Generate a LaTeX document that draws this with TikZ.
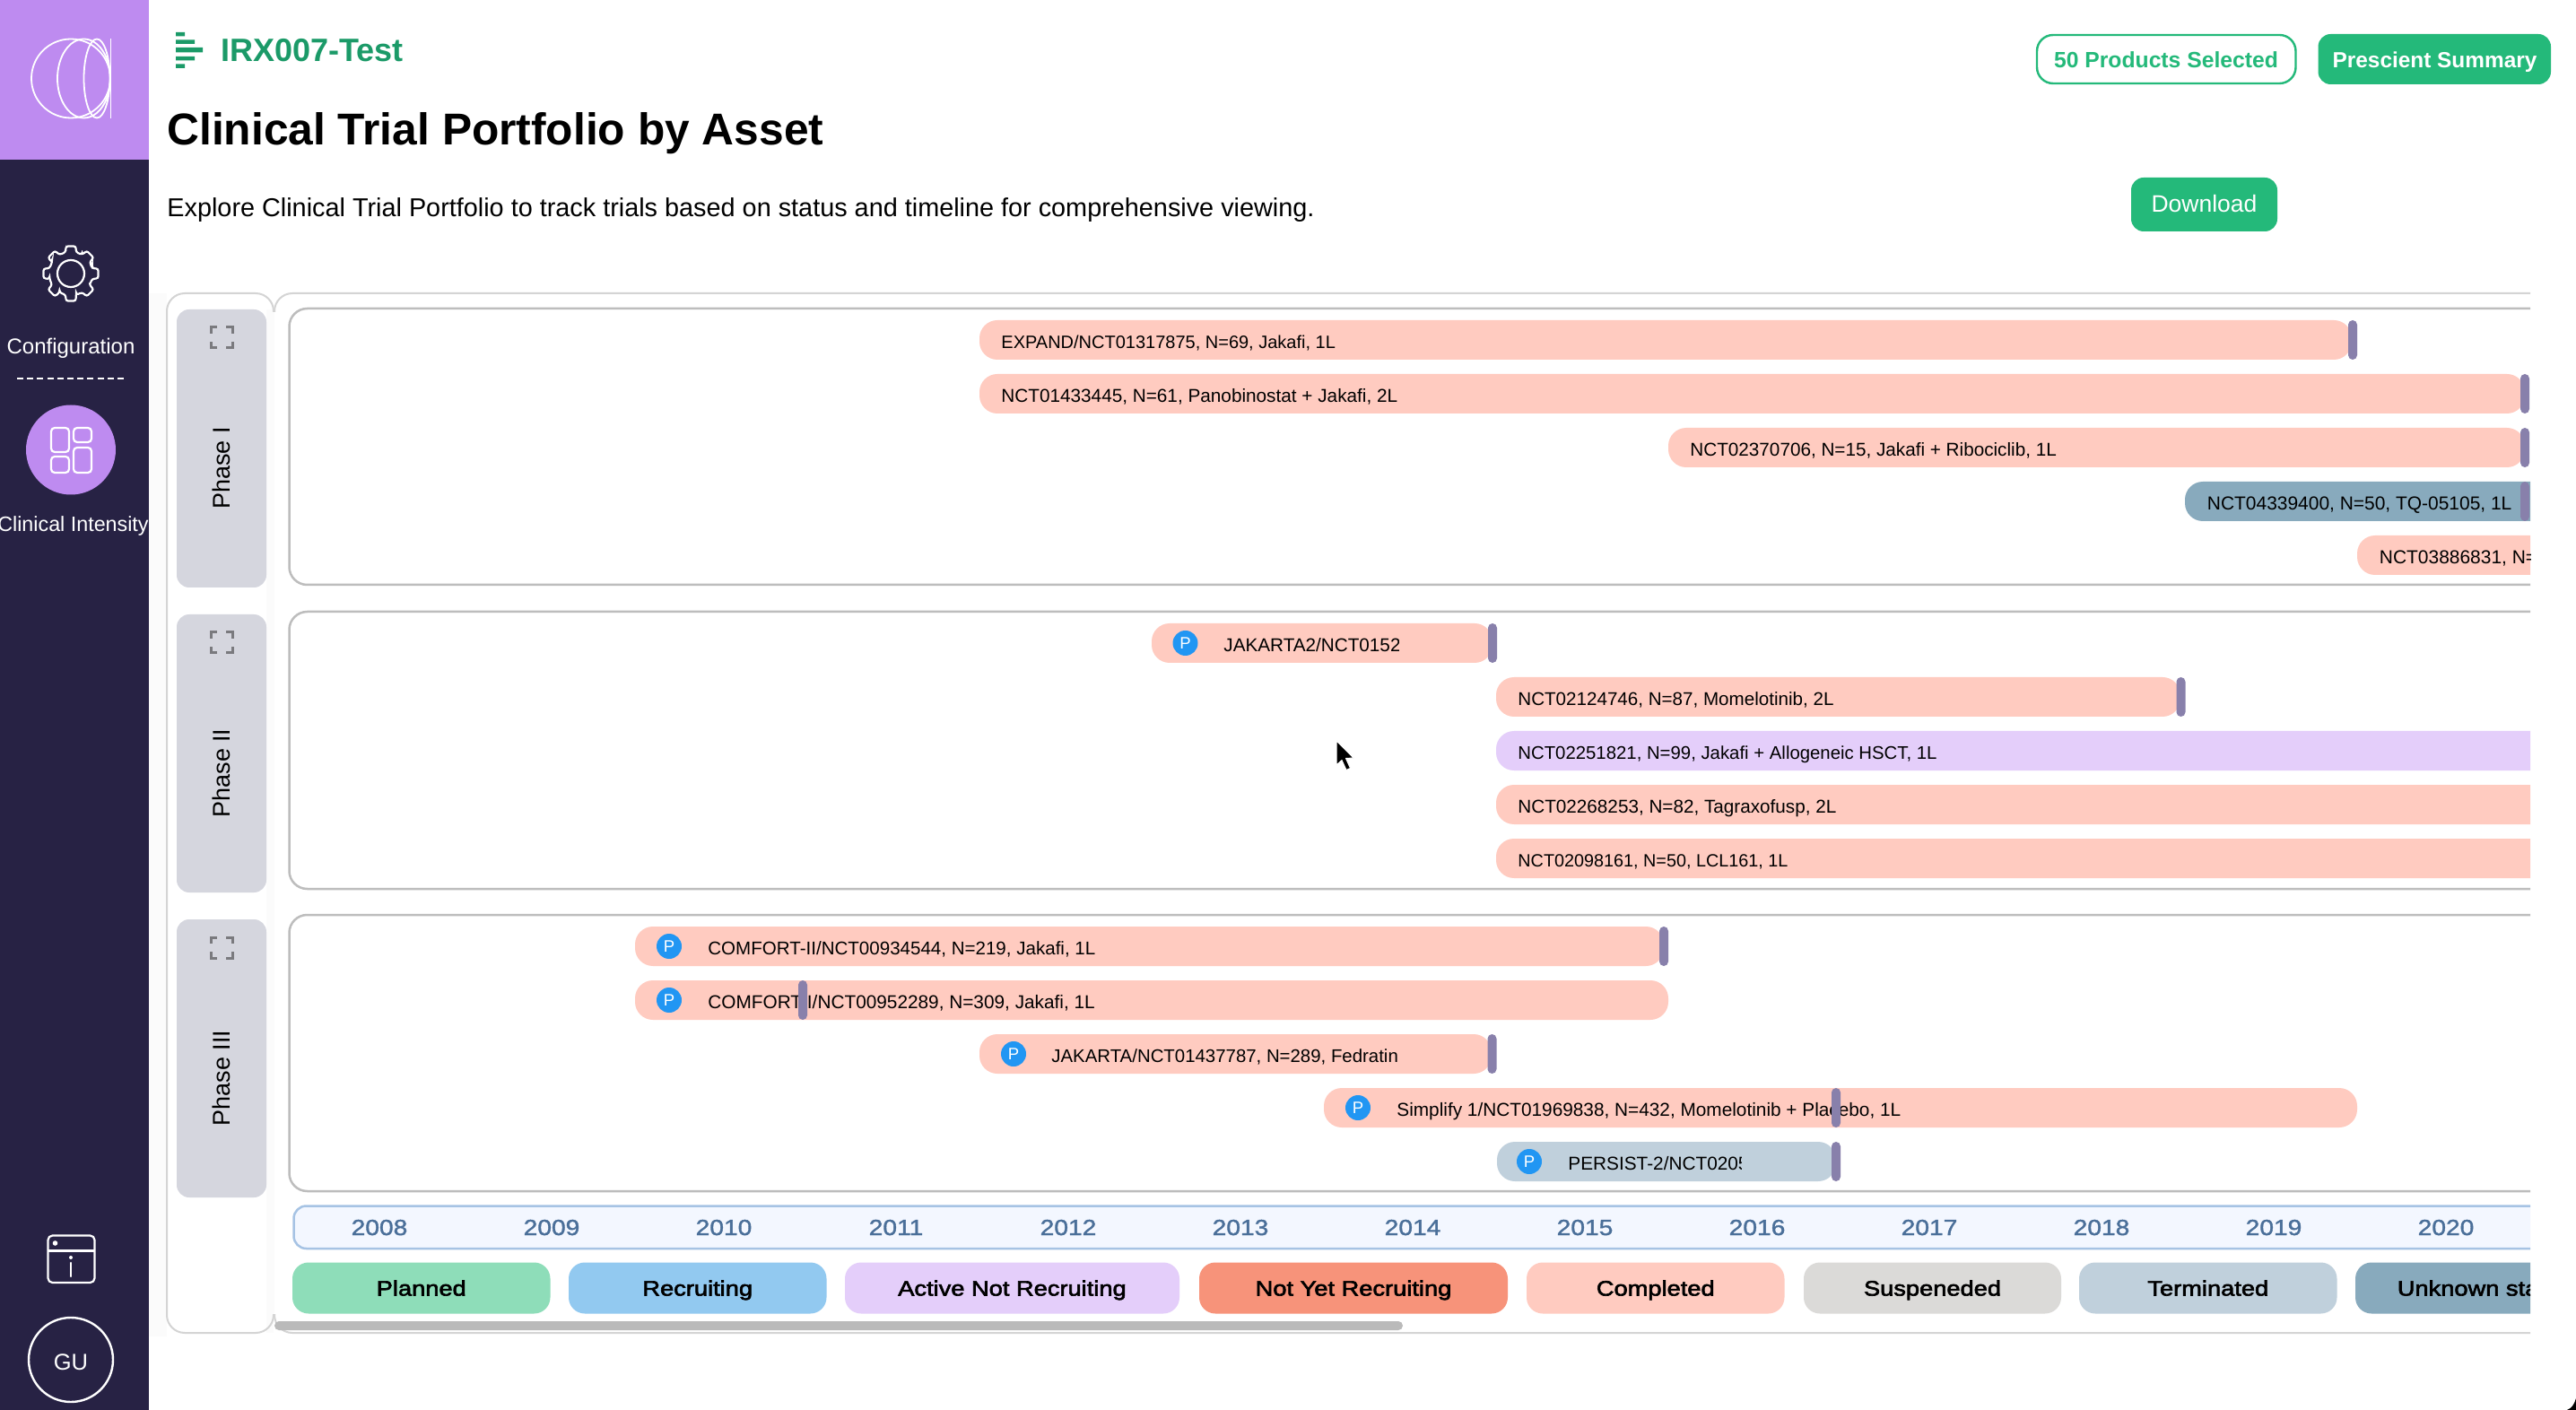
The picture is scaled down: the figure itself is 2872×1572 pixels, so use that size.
\documentclass[tikz,border=0pt]{standalone}
\usepackage{fontspec}
\setmainfont{Liberation Sans}
\setsansfont{Liberation Sans}
\newfontfamily\chipfont[FakeStretch=1.16,FakeBold=2.6]{Liberation Sans}
\newfontfamily\yearfont[FakeStretch=1.15,FakeBold=1.5]{Liberation Sans}
\newcommand\fs[1]{\fontsize{\dimexpr#1pt/2\relax}{\dimexpr#1pt*3/5\relax}\selectfont}
\definecolor{sidebar}{HTML}{272244}
\definecolor{lilac}{HTML}{BE8BF0}
\definecolor{gbtn}{HTML}{24B97A}
\definecolor{gtitle}{HTML}{1B9A68}
\definecolor{phasebox}{HTML}{D5D6DE}
\definecolor{framegray}{HTML}{BDBDBD}
\definecolor{outergray}{HTML}{D4D4D4}
\definecolor{marker}{HTML}{8880AB}
\definecolor{cpl}{HTML}{FFCBC0}
\definecolor{cpln}{HTML}{8EDDB9}
\definecolor{crec}{HTML}{92C9F0}
\definecolor{cact}{HTML}{E4CEFA}
\definecolor{cnot}{HTML}{F7937A}
\definecolor{csus}{HTML}{DBDAD8}
\definecolor{cter}{HTML}{C0D0DC}
\definecolor{cunk}{HTML}{88AABD}
\definecolor{yeartxt}{HTML}{4A6F99}
\definecolor{axisfill}{HTML}{F3F7FF}
\definecolor{axisline}{HTML}{A6C3E4}
\definecolor{pblue}{HTML}{2196F3}
\definecolor{expand}{HTML}{7A7A7E}
\tikzset{
  barfill/.style={fill=#1,rounded corners=10pt},
  marktick/.style={fill=marker,rounded corners=2.5pt},
  bartext/.style={anchor=base west,inner sep=0pt,text=black},
  chiptext/.style={anchor=base,inner sep=0pt,font=\chipfont\fs{23.5},text=black},
  yeartext/.style={anchor=base,inner sep=0pt,font=\yearfont\fs{24.5},text=yeartxt},
  ptext/.style={circle,fill=pblue,text=white,inner sep=0pt,minimum size=14pt,font=\fs{18.5}},
  sidetext/.style={anchor=base,inner sep=0pt,text=white},
  phasetext/.style={rotate=90,inner sep=0pt,font=\fs{27},text=black},
  iconline/.style={draw=white,line width=1.1pt},
}
% bar: x1, x2, top, colour
\newcommand\trialbar[4]{\path[barfill=#4] (#1,#3) rectangle (#2,#3+44);}
% tick: x1, top
\newcommand\tick[2]{\path[marktick] (#1,#2) rectangle (#1+10,#2+44);}
% text: name, x, top, size, text
\newcommand\trialtext[5]{\node[bartext,font=\fs{#4}] (#1) at (#2,#3+31.5) {#5};}
\newcommand\pmark[3]{\node[ptext] (#1) at (#2,#3+22) {P};}
\newcommand\expandicon[1]{%
  \begin{scope}[shift={(247,#1)},line width=1.5pt]
    \draw[expand] (-12,-4.5) -- (-12,-11.5) -- (-5,-11.5);
    \draw[expand] (5,-11.5) -- (12,-11.5) -- (12,-4.5);
    \draw[expand] (12,4.5) -- (12,11.5) -- (5,11.5);
    \draw[expand] (-5,11.5) -- (-12,11.5) -- (-12,4.5);
  \end{scope}}
\begin{document}
\begin{tikzpicture}[x=0.5pt,y=-0.5pt]
\useasboundingbox (0,0) rectangle (2872,1572);
\fill[white] (0,0) rectangle (2872,1572);
% sidebar
\fill[sidebar] (0,0) rectangle (165.5,1572);
\fill[lilac] (0,0) rectangle (165.5,178);
% logo
\begin{scope}[draw=white,line width=0.9pt]
  \draw (79,87.5) ellipse [x radius=44,y radius=44];
  \draw (93.5,87.5) ellipse [x radius=29.5,y radius=44];
  \draw (108,87.5) ellipse [x radius=14.5,y radius=44];
  \draw (123.5,43.5) -- (123.5,132);
\end{scope}
% gear
\begin{scope}[shift={(79,305)}]
  \draw[iconline,rounded corners=1.2pt]
    (-14:24.5)
    \foreach \a in {0,45,...,315}{
      -- (\a-14:24.5) -- (\a-10:31) -- (\a+10:31) -- (\a+14:24.5) -- (\a+31:24.5)
    } -- cycle;
  \draw[iconline] (0,0) circle [radius=15];
\end{scope}
\node[sidetext,font=\fs{24}] (cfg) at (79,395) {Configuration};
\draw[white,line width=1.1pt,dash pattern=on 3.5pt off 2.1pt] (19,422) -- (140,422);
\fill[lilac] (79,501.5) circle [radius=50];
\begin{scope}[iconline,rounded corners=2pt]
  \draw (57,477) rectangle (77,504);
  \draw (82,477) rectangle (102,493);
  \draw (57,509) rectangle (77,527);
  \draw (82,499) rectangle (102,527);
\end{scope}
\node[sidetext,font=\fs{23.3}] (ci) at (81.5,592.5) {Clinical Intensity};
\draw[iconline,rounded corners=2.5pt] (53.5,1377.5) rectangle (105.5,1430);
\draw[iconline] (53.5,1394.5) -- (105.5,1394.5);
\fill[white] (61.5,1386) circle [radius=2.8];
\fill[white] (79,1402) circle [radius=2];
\draw[iconline,line cap=round] (79,1408) -- (79,1423);
\draw[white,line width=1.2pt] (79,1516) circle [radius=47];
\node[sidetext,font=\fs{25.5}] (gu) at (79,1527) {GU};
% header
\fill[gtitle]
  (196,36) rectangle (206,40.5)
  (196,44.5) rectangle (217,49)
  (196,53) rectangle (226,58.5)
  (196,63) rectangle (217,67.5)
  (196,71.5) rectangle (206,76);
\node[anchor=base west,inner sep=0pt,font=\bfseries\fs{36},text=gtitle] (brand) at (246,69) {IRX007-Test};
\node[anchor=base west,inner sep=0pt,font=\bfseries\fs{49.7}] (ttl) at (186,162) {Clinical Trial Portfolio by Asset};
\node[anchor=base west,inner sep=0pt,font=\fs{28.83}] (sub) at (186,242) {Explore Clinical Trial Portfolio to track trials based on status and timeline for comprehensive viewing.};
\draw[gbtn,line width=1.2pt,rounded corners=9pt] (2271,39) rectangle (2559.5,93);
\node[anchor=base,inner sep=0pt,font=\bfseries\fs{24.7},text=gbtn] (prod) at (2415,75.5) {50 Products Selected};
\fill[gbtn,rounded corners=7pt] (2584.5,38) rectangle (2844,94);
\node[anchor=base,inner sep=0pt,font=\bfseries\fs{24.4},text=white] (presc) at (2714.5,75.5) {Prescient Summary};
\fill[gbtn,rounded corners=7pt] (2376,198) rectangle (2539,258);
\node[anchor=base,inner sep=0pt,font=\fs{26.5},text=white] (dl) at (2457.5,237) {Download};
% soft backgrounds
\fill[black!1.5] (166,327) rectangle (186,1490);
\fill[black!1.5] (297,345) rectangle (305,1486);
% clipped table
\begin{scope}
\clip (170,320) rectangle (2821,1500);
% outer frames
\fill[white] (186,327) rectangle (297,1486);
\draw[outergray,line width=1pt,rounded corners=10pt] (305,348) -- (305,327) -- (186,327) -- (186,1486) -- (305,1486) -- (305,1465);
\draw[outergray,line width=1pt,rounded corners=10pt] (306,348) -- (306,327) -- (2900,327);
\draw[outergray,line width=1pt,rounded corners=10pt] (306,1465) -- (306,1486) -- (2900,1486);
\fill[black!1.5] (300,349) rectangle (311,1464);
\fill[white] (306,349) rectangle (311,1464);
% phase labels
\foreach \t/\lab/\nm in {345/Phase I/pa,685/Phase II/pb,1025/Phase III/pc}{
  \fill[phasebox,rounded corners=7pt] (197,\t) rectangle (297,\t+310);
  \node[phasetext] (\nm) at (247,\t+177) {\lab};
  \expandicon{\t+31.5}
}
% chart frames
\foreach \t/\b in {344/652,682/991,1020/1328}{
  \draw[framegray,line width=1.25pt,rounded corners=10pt] (2900,\t) -- (322.5,\t) -- (322.5,\b) -- (2900,\b);
}
% Phase I
\trialbar{1092}{2622}{357}{cpl}\tick{2618}{357}
\trialtext{ta1}{1116}{357}{20}{EXPAND/NCT01317875, N=69, Jakafi, 1L}
\trialbar{1092}{2815}{417}{cpl}\tick{2810}{417}
\trialtext{ta2}{1116}{417}{20.75}{NCT01433445, N=61, Panobinostat + Jakafi, 2L}
\trialbar{1860}{2815}{477}{cpl}\tick{2810}{477}
\trialtext{ta3}{1884}{477}{20.7}{NCT02370706, N=15, Jakafi + Ribociclib, 1L}
\trialbar{2436}{2900}{537}{cunk}\tick{2810}{537}
\trialtext{ta4}{2460.5}{537}{20.95}{NCT04339400, N=50, TQ-05105, 1L}
\trialbar{2628}{2900}{597}{cpl}
\trialtext{ta5}{2652.5}{597}{20.95}{NCT03886831, N=45, Jakafi, 1L}
% Phase II
\trialbar{1284}{1664}{695}{cpl}
\pmark{pb1}{1321.5}{695}
\begin{scope}\clip (1340,690) rectangle (1559,745);
\trialtext{tb1}{1364}{695}{20.7}{JAKARTA2/NCT01523171}
\end{scope}
\tick{1659}{695}
\trialbar{1668}{2431}{755}{cpl}\tick{2426.5}{755}
\trialtext{tb2}{1692}{755}{20.6}{NCT02124746, N=87, Momelotinib, 2L}
\trialbar{1668}{2900}{815}{cact}
\trialtext{tb3}{1692}{815}{20.35}{NCT02251821, N=99, Jakafi + Allogeneic HSCT, 1L}
\trialbar{1668}{2900}{875}{cpl}
\trialtext{tb4}{1692}{875}{20.7}{NCT02268253, N=82, Tagraxofusp, 2L}
\trialbar{1668}{2900}{935}{cpl}
\trialtext{tb5}{1692}{935}{19.8}{NCT02098161, N=50, LCL161, 1L}
% Phase III
\trialbar{708}{1855}{1033}{cpl}\pmark{pc1}{746}{1033}\tick{1850}{1033}
\trialtext{tc1}{789}{1033}{20.55}{COMFORT-II/NCT00934544, N=219, Jakafi, 1L}
\trialbar{708}{1860}{1093}{cpl}\pmark{pc2}{746}{1093}
\trialtext{tc2}{789}{1093}{20.8}{COMFORT-I/NCT00952289, N=309, Jakafi, 1L}
\tick{890}{1093}
\trialbar{1092}{1663}{1153}{cpl}\pmark{pc3}{1130}{1153}
\begin{scope}\clip (1150,1150) rectangle (1557.5,1200);
\trialtext{tc3}{1172}{1153}{20.4}{JAKARTA/NCT01437787, N=289, Fedratinib}
\end{scope}
\tick{1658.5}{1153}
\trialbar{1476}{2628}{1213}{cpl}\pmark{pc4}{1514}{1213}
\trialtext{tc4}{1557}{1213}{20.8}{Simplify 1/NCT01969838, N=432, Momelotinib + Placebo, 1L}
\tick{2042}{1213}
\trialbar{1669}{2047}{1273}{cter}\pmark{pc5}{1705}{1273}
\begin{scope}\clip (1720,1270) rectangle (1941,1320);
\trialtext{tc5}{1748}{1273}{20.8}{PERSIST-2/NCT02055}
\end{scope}
\tick{2042}{1273}
% axis
\draw[axisline,fill=axisfill,line width=1.25pt,rounded corners=7pt] (2900,1344.5) -- (327.5,1344.5) -- (327.5,1392) -- (2900,1392);
\foreach \y [count=\i from 0] in {2008,...,2020}{
  \node[yeartext] (y\y) at ({423+192*\i},1377) {\y};
}
% legend
\foreach \xa/\xb/\col/\lab/\nm in {326/613.5/cpln/Planned/la,634/921.5/crec/Recruiting/lb,942/1315/cact/Active Not Recruiting/lc,1337/1681/cnot/Not Yet Recruiting/ld,1702/1989.5/cpl/Completed/le,2011/2298/csus/Suspeneded/lf,2318/2605.5/cter/Terminated/lg,2626/2913.5/cunk/Unknown status/lh}{
  \fill[\col,rounded corners=9pt] (\xa,1407.5) rectangle (\xb,1464.5);
  \node[chiptext] (\nm) at ({(\xa+\xb)/2},1444.5) {\lab};
}
% scrollbar
\fill[black!27,rounded corners=2.5pt] (306,1473) rectangle (1564,1483);
\end{scope}
% cursor
\path[fill=black,draw=white,line width=0.5pt,line join=round]
  (1490,826) -- (1490,853) -- (1496,847.5) -- (1501,858.5) -- (1505.5,856.5) -- (1500.5,845.5) -- (1509,845) -- cycle;
% corner
\fill[black] (2872,1559) .. controls (2870,1566) and (2867,1570) .. (2862,1572) -- (2872,1572) -- cycle;
\end{tikzpicture}
\end{document}
